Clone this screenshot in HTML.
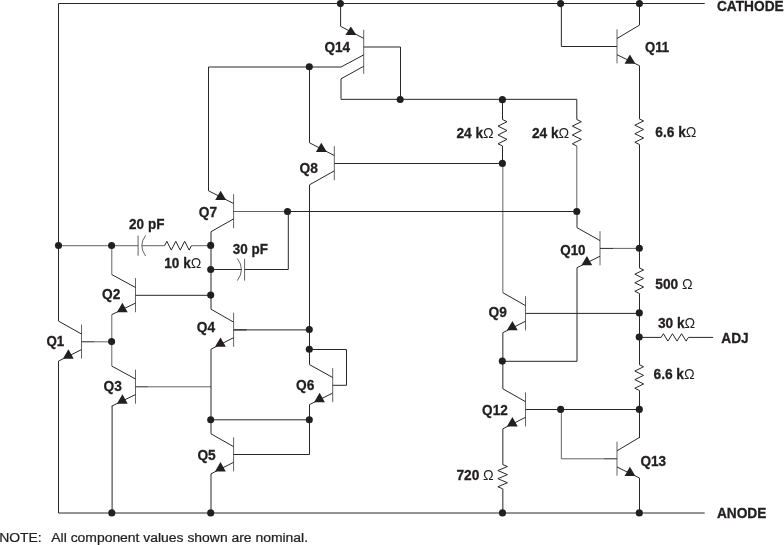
<!DOCTYPE html>
<html lang="en"><head><meta charset="utf-8"><title>Schematic</title>
<style>html,body{margin:0;padding:0;background:#fff}svg{display:block;will-change:transform}text{font-family:"Liberation Sans",Arial,Helvetica,sans-serif;fill:#231f20}.b{font-weight:bold;stroke:#231f20;stroke-width:0.3px}.r{stroke:#231f20;stroke-width:0.25px}.om{font-weight:normal;stroke:none;font-size:14.9px}.l{stroke-width:0.72px !important}.w{fill:none;stroke:#2a2627;stroke-width:1.0;stroke-linecap:butt;stroke-linejoin:miter}</style></head><body>
<svg width="784" height="545" viewBox="0 0 784 545">
<rect width="784" height="545" fill="#fff"/>
<g class="w">
<path d="M58.50,3.50 L704.70,3.50"/>
<path d="M58.50,513.00 L704.70,513.00"/>
<path d="M58.50,321.10 L81.50,334.00"/>
<path d="M81.50,349.60 L58.50,361.10"/>
<path d="M58.50,3.50 L58.50,321.10"/>
<path d="M58.50,361.10 L58.50,513.00"/>
<path d="M81.50,341.80 L94.50,341.80"/>
<path d="M164.60,245.70 L166.83,241.30 L171.30,250.10 L175.77,241.30 L180.23,250.10 L184.70,241.30 L189.17,250.10 L191.40,245.70"/>
<path d="M111.80,274.60 L135.50,287.50"/>
<path d="M135.50,303.10 L111.80,314.60"/>
<path d="M135.50,295.30 L211.00,295.30"/>
<path d="M111.80,366.10 L135.50,379.00"/>
<path d="M135.50,394.60 L111.80,406.10"/>
<path d="M111.80,406.10 L112.10,406.11 L112.10,513.00"/>
<path d="M135.50,386.80 L148.50,386.80"/>
<path d="M208.50,190.80 L233.60,203.50"/>
<path d="M233.60,218.90 L211.00,231.70"/>
<path d="M208.50,190.80 L208.50,67.00 L341.00,67.00"/>
<path d="M287.50,211.50 L577.00,211.50"/>
<path d="M211.00,231.70 L211.00,269.50"/>
<path d="M211.00,269.50 L241.40,269.50"/>
<path d="M244.60,269.50 L288.30,269.50 L288.30,211.50"/>
<path d="M211.00,309.20 L233.60,322.10"/>
<path d="M233.60,337.70 L211.00,349.20"/>
<path d="M211.00,269.50 L211.00,309.20"/>
<path d="M233.60,329.90 L309.50,329.90"/>
<path d="M233.60,329.90 L246.50,329.90"/>
<path d="M211.00,433.80 L233.60,446.70"/>
<path d="M233.60,462.30 L211.00,473.80"/>
<path d="M211.00,349.20 L211.00,433.80"/>
<path d="M211.00,473.80 L211.00,513.00"/>
<path d="M211.00,419.80 L309.50,419.80"/>
<path d="M233.60,454.50 L309.50,454.50 L309.50,419.80"/>
<path d="M309.50,142.80 L334.30,155.50"/>
<path d="M334.30,170.90 L309.50,184.80"/>
<path d="M309.50,67.00 L309.50,142.80"/>
<path d="M309.50,184.80 L309.50,349.50"/>
<path d="M334.30,163.50 L502.50,163.50"/>
<path d="M309.50,364.60 L332.70,377.50"/>
<path d="M332.70,393.10 L309.50,404.60"/>
<path d="M309.50,349.50 L309.50,364.60"/>
<path d="M309.50,404.60 L309.50,419.80"/>
<path d="M309.50,349.50 L346.50,349.50 L346.50,385.30 L332.70,385.30"/>
<path d="M340.60,3.50 L340.60,26.30 L363.70,38.40"/>
<path d="M363.70,54.90 L341.00,67.00"/>
<path d="M363.70,66.30 L341.00,78.80 L341.00,99.35 L576.80,99.35 L576.80,119.50"/>
<path d="M363.70,47.00 L400.50,47.00 L400.50,99.35"/>
<path d="M502.50,99.35 L502.50,119.50"/>
<path d="M502.50,119.50 L507.00,121.71 L498.00,126.12 L507.00,130.54 L498.00,134.96 L507.00,139.37 L498.00,143.79 L502.50,146.00"/>
<path d="M502.50,146.00 L502.50,163.50"/>
<path d="M576.80,119.50 L581.30,121.71 L572.30,126.12 L581.30,130.54 L572.30,134.96 L581.30,139.37 L572.30,143.79 L576.80,146.00"/>
<path d="M502.85,292.70 L525.50,305.60"/>
<path d="M525.50,321.20 L502.85,332.70"/>
<path d="M525.50,313.40 L639.50,313.40"/>
<path d="M502.85,388.80 L525.50,401.70"/>
<path d="M525.50,417.30 L502.85,428.80"/>
<path d="M502.85,332.70 L502.85,388.80"/>
<path d="M525.50,409.50 L639.50,409.50"/>
<path d="M502.85,428.80 L502.85,464.50"/>
<path d="M502.65,464.50 L507.45,466.52 L497.85,470.57 L507.45,474.62 L497.85,478.68 L507.45,482.73 L497.85,486.78 L502.65,488.80"/>
<path d="M502.85,488.80 L502.85,513.00"/>
<path d="M577.00,227.70 L600.00,240.60"/>
<path d="M600.00,256.20 L577.00,267.70"/>
<path d="M577.00,211.50 L577.00,227.70"/>
<path d="M600.00,248.40 L613.00,248.40"/>
<path d="M577.00,267.70 L577.00,361.30 L502.50,361.30"/>
<path d="M561.35,3.50 L561.35,46.50 L617.00,46.50"/>
<path d="M639.50,25.10 L617.00,38.50"/>
<path d="M617.00,54.70 L639.50,65.70"/>
<path d="M639.50,3.50 L639.50,25.10"/>
<path d="M639.50,65.70 L639.50,118.80"/>
<path d="M639.20,118.80 L643.60,120.93 L634.80,125.20 L643.60,129.47 L634.80,133.73 L643.60,138.00 L634.80,142.27 L639.20,144.40"/>
<path d="M639.50,144.40 L639.50,267.80"/>
<path d="M639.20,267.80 L643.60,269.93 L634.80,274.20 L643.60,278.47 L634.80,282.73 L643.60,287.00 L634.80,291.27 L639.20,293.40"/>
<path d="M639.50,293.40 L639.50,364.60"/>
<path d="M639.20,364.60 L643.60,366.75 L634.80,371.05 L643.60,375.35 L634.80,379.65 L643.60,383.95 L634.80,388.25 L639.20,390.40"/>
<path d="M639.50,390.40 L639.50,438.00"/>
<path d="M639.50,337.40 L661.10,337.40"/>
<path d="M661.10,337.40 L663.38,333.70 L667.92,341.10 L672.47,333.70 L677.02,341.10 L681.57,333.70 L686.12,341.10 L688.40,337.40"/>
<path d="M688.40,337.40 L713.10,337.40"/>
<path d="M639.50,437.40 L617.00,450.80"/>
<path d="M617.00,467.00 L639.50,478.00"/>
<path d="M604.00,458.80 L617.00,458.80"/>
<path d="M639.50,478.00 L639.50,513.00"/>
</g>
<g class="w l">
<path d="M81.50,324.60 L81.50,358.70"/>
<path d="M94.50,341.80 L111.80,341.80"/>
<path d="M58.50,245.70 L138.10,245.70"/>
<path d="M138.10,235.60 L138.10,255.80"/>
<path d="M145.6,235.4 Q138.0,245.5 145.6,256.0"/>
<path d="M142.00,245.70 L164.60,245.70"/>
<path d="M191.40,245.70 L211.00,245.70"/>
<path d="M135.50,278.10 L135.50,312.20"/>
<path d="M111.80,245.50 L111.80,274.60"/>
<path d="M135.50,369.60 L135.50,403.70"/>
<path d="M111.80,314.60 L111.80,366.10"/>
<path d="M148.50,386.80 L211.00,386.80"/>
<path d="M233.60,194.20 L233.60,228.30"/>
<path d="M233.60,211.50 L287.50,211.50"/>
<path d="M237.3,258.4 Q245.6,269.5 237.3,280.6"/>
<path d="M244.60,258.80 L244.60,280.60"/>
<path d="M233.60,312.70 L233.60,346.80"/>
<path d="M233.60,437.30 L233.60,471.40"/>
<path d="M334.30,146.20 L334.30,180.30"/>
<path d="M332.70,368.10 L332.70,402.20"/>
<path d="M363.70,29.80 L363.70,73.80"/>
<path d="M576.80,146.00 L576.80,211.50"/>
<path d="M525.50,296.20 L525.50,330.30"/>
<path d="M502.85,163.50 L502.85,292.70"/>
<path d="M525.50,392.30 L525.50,426.40"/>
<path d="M600.00,231.20 L600.00,265.30"/>
<path d="M613.00,248.40 L639.50,248.40"/>
<path d="M617.00,29.30 L617.00,63.40"/>
<path d="M617.00,441.60 L617.00,475.70"/>
<path d="M561.35,409.50 L561.35,458.80 L604.00,458.80"/>
</g>
<g fill="#231f20">
<circle cx="58.50" cy="245.50" r="3.55"/>
<circle cx="111.60" cy="245.50" r="3.55"/>
<circle cx="111.60" cy="341.60" r="3.55"/>
<circle cx="111.80" cy="512.90" r="3.55"/>
<circle cx="210.70" cy="245.40" r="3.55"/>
<circle cx="309.30" cy="66.80" r="3.55"/>
<circle cx="287.50" cy="211.50" r="3.55"/>
<circle cx="576.80" cy="211.50" r="3.55"/>
<circle cx="210.70" cy="269.50" r="3.55"/>
<circle cx="210.70" cy="295.10" r="3.55"/>
<circle cx="309.30" cy="329.50" r="3.55"/>
<circle cx="309.30" cy="349.20" r="3.55"/>
<circle cx="210.70" cy="419.80" r="3.55"/>
<circle cx="210.70" cy="512.90" r="3.55"/>
<circle cx="309.30" cy="419.70" r="3.55"/>
<circle cx="502.40" cy="163.40" r="3.55"/>
<circle cx="340.40" cy="3.60" r="3.55"/>
<circle cx="400.20" cy="99.55" r="3.55"/>
<circle cx="502.40" cy="99.65" r="3.55"/>
<circle cx="639.30" cy="312.90" r="3.55"/>
<circle cx="502.30" cy="361.10" r="3.55"/>
<circle cx="560.65" cy="409.40" r="3.55"/>
<circle cx="639.30" cy="409.40" r="3.55"/>
<circle cx="502.50" cy="512.90" r="3.55"/>
<circle cx="639.30" cy="248.20" r="3.55"/>
<circle cx="560.60" cy="3.60" r="3.55"/>
<circle cx="639.40" cy="3.60" r="3.55"/>
<circle cx="639.20" cy="337.00" r="3.55"/>
<circle cx="639.30" cy="512.90" r="3.55"/>
<polygon points="68.40,349.30 62.90,358.70 73.70,358.70"/>
<polygon points="122.40,302.80 116.90,312.20 127.70,312.20"/>
<polygon points="122.40,394.30 116.90,403.70 127.70,403.70"/>
<polygon points="220.60,190.80 215.20,199.90 226.20,199.90"/>
<polygon points="220.50,337.40 215.00,346.80 225.80,346.80"/>
<polygon points="220.50,462.00 215.00,471.40 225.80,471.40"/>
<polygon points="321.30,142.80 315.90,151.90 326.90,151.90"/>
<polygon points="319.60,392.80 314.10,402.20 324.90,402.20"/>
<polygon points="350.80,26.40 345.40,35.00 356.40,35.00"/>
<polygon points="512.40,320.90 506.90,330.30 517.70,330.30"/>
<polygon points="512.40,417.00 506.90,426.40 517.70,426.40"/>
<polygon points="586.90,255.90 581.40,265.30 592.20,265.30"/>
<polygon points="629.90,54.50 624.60,63.70 635.40,63.70"/>
<polygon points="629.90,466.80 624.60,476.00 635.40,476.00"/>
</g>
<text transform="translate(716.90,10.90) scale(0.96,1)" font-size="14.3" class="b">CATHODE</text>
<text transform="translate(716.90,518.10) scale(0.96,1)" font-size="14.3" class="b">ANODE</text>
<text transform="translate(721.30,343.00) scale(0.96,1)" font-size="14.3" class="b">ADJ</text>
<text transform="translate(46.50,345.90) scale(0.93,1)" font-size="14.3" class="b">Q1</text>
<text transform="translate(102.10,299.30) scale(0.96,1)" font-size="14.3" class="b">Q2</text>
<text transform="translate(103.60,391.20) scale(0.96,1)" font-size="14.3" class="b">Q3</text>
<text transform="translate(196.80,332.40) scale(0.96,1)" font-size="14.3" class="b">Q4</text>
<text transform="translate(197.40,460.10) scale(0.96,1)" font-size="14.3" class="b">Q5</text>
<text transform="translate(296.00,390.00) scale(0.96,1)" font-size="14.3" class="b">Q6</text>
<text transform="translate(198.80,216.50) scale(0.96,1)" font-size="14.3" class="b">Q7</text>
<text transform="translate(299.50,173.00) scale(0.96,1)" font-size="14.3" class="b">Q8</text>
<text transform="translate(488.50,317.30) scale(0.96,1)" font-size="14.3" class="b">Q9</text>
<text transform="translate(560.20,254.50) scale(0.94,1)" font-size="14.3" class="b">Q10</text>
<text transform="translate(645.00,52.10) scale(0.92,1)" font-size="14.3" class="b">Q11</text>
<text transform="translate(482.10,414.60) scale(0.95,1)" font-size="14.3" class="b">Q12</text>
<text transform="translate(640.40,465.90) scale(0.95,1)" font-size="14.3" class="b">Q13</text>
<text transform="translate(324.40,51.70) scale(0.95,1)" font-size="14.3" class="b">Q14</text>
<text transform="translate(129.10,229.40) scale(0.945,1)" font-size="14.3" class="b">20 pF</text>
<text transform="translate(232.80,254.40) scale(0.94,1)" font-size="14.3" class="b">30 pF</text>
<text transform="translate(164.30,267.70) scale(0.95,1)" font-size="14.3" class="b">10 k<tspan class="om">Ω</tspan></text>
<text transform="translate(456.40,137.50) scale(0.96,1)" font-size="14.3" class="b">24 k<tspan class="om">Ω</tspan></text>
<text transform="translate(531.90,137.50) scale(0.96,1)" font-size="14.3" class="b">24 k<tspan class="om">Ω</tspan></text>
<text transform="translate(655.30,137.40) scale(0.96,1)" font-size="14.3" class="b">6.6 k<tspan class="om">Ω</tspan></text>
<text transform="translate(655.30,289.00) scale(0.96,1)" font-size="14.3" class="b">500 <tspan class="om">Ω</tspan></text>
<text transform="translate(657.90,328.00) scale(0.96,1)" font-size="14.3" class="b">30 k<tspan class="om">Ω</tspan></text>
<text transform="translate(653.50,379.10) scale(0.96,1)" font-size="14.3" class="b">6.6 k<tspan class="om">Ω</tspan></text>
<text transform="translate(456.40,480.30) scale(0.96,1)" font-size="14.3" class="b">720 <tspan class="om">Ω</tspan></text>
<text transform="translate(-0.80,541.70) scale(1.017,1)" font-size="13.7" class="r">NOTE:</text>
<text transform="translate(51.30,541.70) scale(1.017,1)" font-size="13.7" class="r">All component values shown are nominal.</text>
</svg></body></html>
